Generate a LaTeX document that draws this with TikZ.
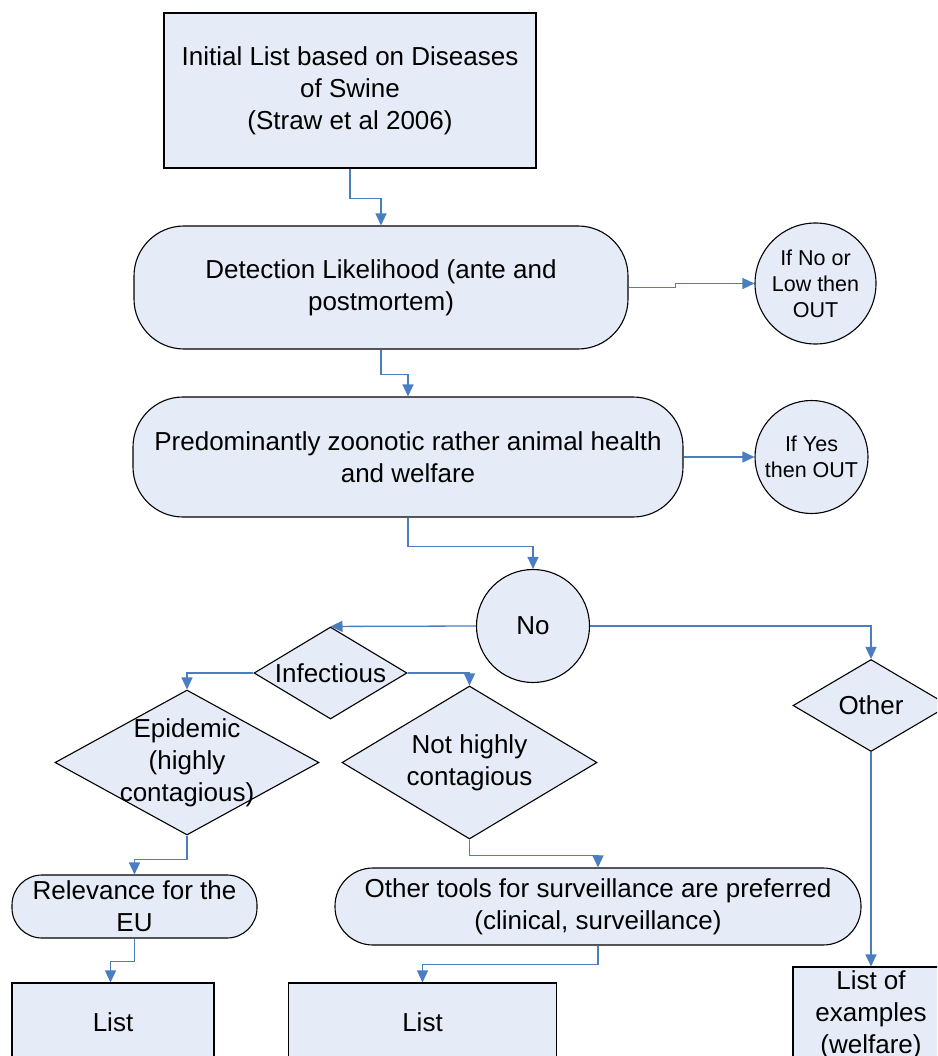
\documentclass[tikz,border=0pt]{standalone}
\usepackage{fontspec}
\setmainfont{Liberation Sans}
\usetikzlibrary{shapes.geometric,arrows.meta,calc}
\definecolor{boxfill}{RGB}{230,236,247}
\definecolor{connblue}{RGB}{74,126,193}
\begin{document}
\begin{tikzpicture}[x=1pt,y=-1pt,
  base/.style={draw=black,line width=1.1pt,fill=boxfill,inner sep=0pt,align=center,
    font=\fontsize{26}{32}\selectfont},
  sqbox/.style={base,rectangle},
  rndbox/.style={base,rectangle,rounded corners=50pt},
  rndsmall/.style={base,rectangle,rounded corners=30pt},
  circ/.style={base,circle},
  dia/.style={base,diamond},
  txt/.style={inner sep=0pt,align=center,font=\fontsize{26}{32}\selectfont},
  smalltxt/.style={inner sep=0pt,align=center,font=\fontsize{21.5}{26}\selectfont},
  conn/.style={draw=connblue,line width=1.3pt,-{Triangle[length=12pt,width=11pt]}}
]
\useasboundingbox (0,0) rectangle (937,1056);
\clip (0,0) rectangle (937,1056);

% boxes
\node[sqbox,minimum width=372pt,minimum height=155pt] (init) at (350,90.5)
  {Initial List based on Diseases\\of Swine\\(Straw et al 2006)};
\node[rndbox,minimum width=494pt,minimum height=123pt] (det) at (381,287.5)
  {Detection Likelihood (ante and\\postmortem)};
\node[circ,minimum size=121pt] (c1) at (815.5,283.5) {};
\node[smalltxt] (c1t) at (c1) {If No or\\Low then\\OUT};
\node[rndbox,minimum width=550pt,minimum height=120pt] (pred) at (408,457)
  {Predominantly zoonotic rather animal health\\and welfare};
\node[circ,minimum size=113pt] (c2) at (811.5,457) {};
\node[smalltxt] (c2t) at (c2) {If Yes\\then OUT};
\node[circ,minimum size=113pt] (no) at (533,626) {No};

% diamonds
\node[dia,minimum width=153pt,minimum height=92pt] (inf) at (330.5,673) {};
\node[txt] (inft) at (inf) {Infectious};
\node[dia,minimum width=264pt,minimum height=145pt] (epi) at (187,762.5) {};
\node[txt] (epit) at (epi) {Epidemic\\(highly\\contagious)};
\node[dia,minimum width=255pt,minimum height=153pt] (nhc) at (469.5,762.5) {};
\node[txt] (nhct) at (nhc) {Not highly\\contagious};
\node[dia,minimum width=156pt,minimum height=92pt] (oth) at (871,705.5) {};
\node[txt] (otht) at (oth) {Other};

% lower boxes
\node[rndsmall,minimum width=245pt,minimum height=63pt] (rel) at (134.5,906.5)
  {Relevance for the\\EU};
\node[rndbox,rounded corners=38pt,minimum width=526pt,minimum height=77pt] (tools) at (598,906.5)
  {Other tools for surveillance are preferred\\(clinical, surveillance)};
\node[sqbox,minimum width=202pt,minimum height=78pt] (list1) at (113,1022) {List};
\node[sqbox,minimum width=268pt,minimum height=78pt] (list2) at (422.5,1022) {List};
\node[sqbox,minimum width=156pt,minimum height=96pt] (loe) at (871,1015)
  {List of\\examples\\(welfare)};

% connectors
\draw[conn] (init.south) -- ++(0,30) -| (det.north);
\draw[conn] (det.east) -- ++(47,0) |- (c1.west);
\draw[conn] (det.south) -- ++(0,25) -| (pred.north);
\draw[conn] (pred.east) -- (c2.west);
\draw[conn] (pred.south) -- ++(0,29) -| (no.north);
\draw[conn] (no.west) -- (inf.north);
\draw[conn] (no.east) -| (oth.north);
\draw[conn] (inf.west) -| (epi.north);
\draw[conn] (inf.east) -| (nhc.north);
\draw[conn] (epi.south) -- ++(0,24) -| (rel.north);
\draw[conn] (nhc.south) -- ++(0,16) -| (tools.north);
\draw[conn] (rel.south) -- ++(0,23) -| ([xshift=-2.5pt]list1.north);
\draw[conn] (tools.south) -- ++(0,19) -| (list2.north);
\draw[conn] (oth.south) -- (loe.north);
\end{tikzpicture}
\end{document}
